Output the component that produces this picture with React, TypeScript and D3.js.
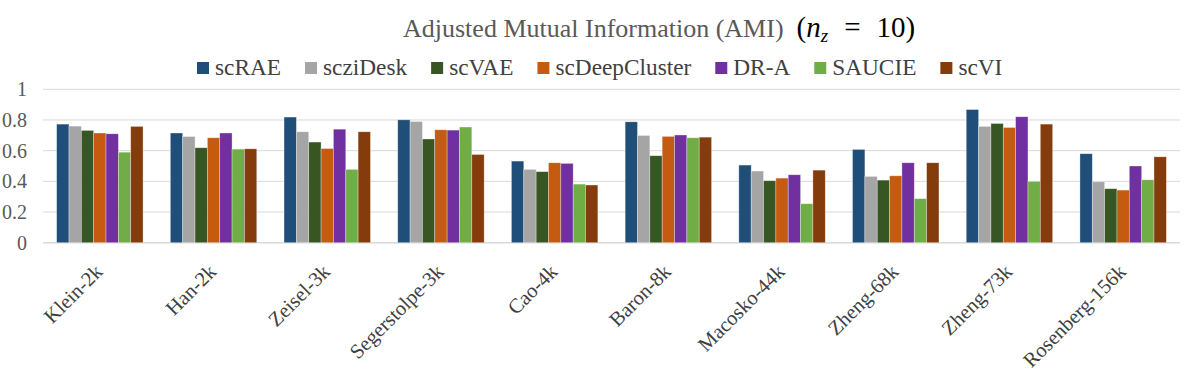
import React, { useEffect, useRef } from "react";
import * as d3 from "d3";

const categories = [
  "Klein-2k",
  "Han-2k",
  "Zeisel-3k",
  "Segerstolpe-3k",
  "Cao-4k",
  "Baron-8k",
  "Macosko-44k",
  "Zheng-68k",
  "Zheng-73k",
  "Rosenberg-156k",
];

const methods = ["scRAE", "scziDesk", "scVAE", "scDeepCluster", "DR-A", "SAUCIE", "scVI"];

const scRAE = [0.773, 0.715, 0.819, 0.801, 0.532, 0.788, 0.506, 0.608, 0.868, 0.58];
const scziDesk = [0.76, 0.692, 0.723, 0.79, 0.478, 0.699, 0.467, 0.432, 0.758, 0.397];
const scVAE = [0.732, 0.619, 0.656, 0.676, 0.463, 0.567, 0.404, 0.408, 0.777, 0.352];
const scDeepCluster = [0.715, 0.684, 0.614, 0.736, 0.521, 0.693, 0.421, 0.436, 0.751, 0.343];
const drA = [0.71, 0.715, 0.74, 0.734, 0.517, 0.702, 0.443, 0.521, 0.821, 0.5];
const saucie = [0.59, 0.61, 0.478, 0.754, 0.382, 0.684, 0.254, 0.287, 0.4, 0.41];
const scVI = [0.758, 0.612, 0.723, 0.575, 0.376, 0.688, 0.473, 0.521, 0.773, 0.56];

const yTicks = [0, 0.2, 0.4, 0.6, 0.8, 1];

const colors = ["#1f4e79", "#a5a5a5", "#375623", "#c55a11", "#7030a0", "#70ad47", "#843c0c"];

const FONT = "'Liberation Serif', 'Times New Roman', serif";

export default function App() {
  const ref = useRef<SVGSVGElement>(null);

  useEffect(() => {
    const svg = d3.select(ref.current);
    svg.selectAll("*").remove();

    const series = [scRAE, scziDesk, scVAE, scDeepCluster, drA, saucie, scVI];
    const data = categories.map((c, i) => ({
      category: c,
      values: methods.map((m, j) => ({ method: m, value: series[j][i] })),
    }));

    const x0 = d3
      .scaleBand()
      .domain(categories)
      .range([43, 1180])
      .paddingInner(0.24)
      .paddingOuter(0.12);

    const x1 = d3.scaleBand().domain(methods).range([0, x0.bandwidth()]).padding(0);

    const y = d3.scaleLinear().domain([0, 1]).range([242.7, 89.3]);

    const color = d3.scaleOrdinal<string, string>().domain(methods).range(colors);

    // gridlines
    svg
      .append("g")
      .selectAll("line")
      .data(yTicks)
      .enter()
      .append("line")
      .attr("x1", 43)
      .attr("x2", 1180)
      .attr("y1", (d) => y(d))
      .attr("y2", (d) => y(d))
      .attr("stroke", "#d9d9d9")
      .attr("stroke-width", (d) => (d === 0 ? 1.5 : 1));

    // y labels
    svg
      .append("g")
      .selectAll("text")
      .data(yTicks)
      .enter()
      .append("text")
      .attr("x", 27)
      .attr("y", (d) => y(d))
      .attr("dy", "0.35em")
      .attr("text-anchor", "end")
      .attr("font-family", FONT)
      .attr("font-size", 20)
      .attr("fill", "#595959")
      .text((d) => d3.format("~g")(d));

    // bars
    const groups = svg
      .append("g")
      .selectAll("g")
      .data(data)
      .enter()
      .append("g")
      .attr("transform", (d) => "translate(" + x0(d.category) + ",0)");

    groups
      .selectAll("rect")
      .data((d) => d.values)
      .enter()
      .append("rect")
      .attr("x", (d) => x1(d.method))
      .attr("y", (d) => y(d.value))
      .attr("width", x1.bandwidth())
      .attr("height", (d) => y(0) - y(d.value))
      .attr("fill", (d) => color(d.method))
      .attr("stroke", "#ffffff")
      .attr("stroke-opacity", 0.45)
      .attr("stroke-width", 0.7);

    // x labels
    svg
      .append("g")
      .selectAll("text")
      .data(categories)
      .enter()
      .append("text")
      .attr(
        "transform",
        (d) => "translate(" + (x0(d) + x0.bandwidth() / 2 + 4) + ",273)rotate(-45)"
      )
      .attr("text-anchor", "end")
      .attr("font-family", FONT)
      .attr("font-size", 20.5)
      .attr("fill", "#404040")
      .text((d) => d);

    // title
    const title = svg
      .append("text")
      .attr("x", 403)
      .attr("y", 37)
      .attr("font-family", FONT)
      .attr("font-size", 26);
    title.append("tspan").attr("fill", "#595959").text("Adjusted Mutual Information (AMI)");
    title
      .append("tspan")
      .attr("dx", 13)
      .attr("font-size", 29)
      .attr("fill", "#000")
      .text("(");
    title
      .append("tspan")
      .attr("font-style", "italic")
      .attr("font-size", 29)
      .attr("fill", "#000")
      .text("n");
    title
      .append("tspan")
      .attr("font-style", "italic")
      .attr("font-size", 19)
      .attr("dy", 5)
      .attr("fill", "#000")
      .text("z");
    title
      .append("tspan")
      .attr("dy", -5)
      .attr("dx", 16)
      .attr("font-size", 29)
      .attr("fill", "#000")
      .text("=");
    title
      .append("tspan")
      .attr("dx", 16)
      .attr("font-size", 29)
      .attr("fill", "#000")
      .text("10)");

    // legend
    let lx = 197;
    methods.forEach((m) => {
      svg
        .append("rect")
        .attr("x", lx)
        .attr("y", 62)
        .attr("width", 12)
        .attr("height", 12)
        .attr("fill", color(m));
      const t = svg
        .append("text")
        .attr("x", lx + 18)
        .attr("y", 74.5)
        .attr("font-family", FONT)
        .attr("font-size", 23.3)
        .attr("fill", "#404040")
        .text(m);
      const w = (t.node() as SVGTextElement).getComputedTextLength();
      lx += 18 + w + 24;
    });
  }, []);

  return (
    <svg
      ref={ref}
      width={1196}
      height={375}
      style={{ position: "absolute", left: 0, top: 0, background: "#fff" }}
    />
  );
}
